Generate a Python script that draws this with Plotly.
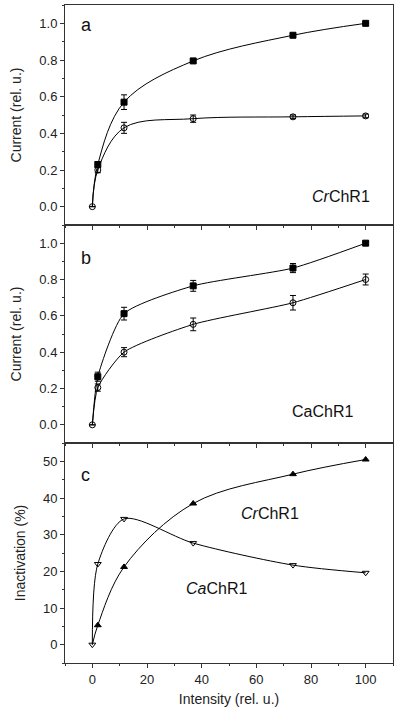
import plotly.graph_objects as go
from plotly.subplots import make_subplots

# Intensity values (rel. u.)
intensity = [0, 2.0, 11.6, 36.9, 73.4, 100]

# Panel a: CrChR1 currents
a_peak = [0, 0.23, 0.57, 0.795, 0.935, 1.0]
a_peak_err = [0, 0.015, 0.04, 0.01, 0.01, 0.0]
a_stat = [0, 0.20, 0.43, 0.48, 0.49, 0.495]
a_stat_err = [0, 0.015, 0.03, 0.02, 0.01, 0.01]

# Panel b: CaChR1 currents
b_peak = [0, 0.265, 0.612, 0.765, 0.863, 1.0]
b_peak_err = [0, 0.025, 0.035, 0.03, 0.025, 0.01]
b_stat = [0, 0.205, 0.40, 0.553, 0.672, 0.80]
b_stat_err = [0, 0.02, 0.025, 0.035, 0.04, 0.03]

# Panel c: inactivation (%)
c_cr = [0, 5.3, 21.2, 38.5, 46.5, 50.5]
c_ca = [0, 22.0, 34.3, 27.7, 21.7, 19.6]

fig = make_subplots(rows=3, cols=1, shared_xaxes=True, vertical_spacing=0)


def add_series(row, y, err, symbol, skip0=True, smoothing=1.0):
    fig.add_trace(go.Scatter(x=intensity, y=y, mode="lines",
                             line=dict(color="black", width=1, shape="spline",
                                       smoothing=smoothing),
                             hoverinfo="skip", showlegend=False), row=row, col=1)
    start = 1 if skip0 else 0
    kw = {}
    if err is not None:
        kw["error_y"] = dict(type="data", array=err[start:], color="black",
                             thickness=1, width=3)
    fig.add_trace(go.Scatter(x=intensity[start:], y=y[start:], mode="markers",
                             marker=dict(symbol=symbol, size=6, color="black",
                                         line=dict(color="black", width=1)),
                             showlegend=False, **kw), row=row, col=1)


add_series(1, a_peak, a_peak_err, "square", skip0=True)
add_series(1, a_stat, a_stat_err, "circle-open", skip0=False)
add_series(2, b_peak, b_peak_err, "square", skip0=True, smoothing=0.6)
add_series(2, b_stat, b_stat_err, "circle-open", skip0=False, smoothing=0.6)
add_series(3, c_cr, None, "triangle-up", skip0=True)
add_series(3, c_ca, None, "triangle-down-open", skip0=False, smoothing=0.8)

FONT = "Liberation Sans, Arial, sans-serif"
axis_common = dict(showline=True, linecolor="#333", linewidth=1, mirror=True,
                   ticks="outside", ticklen=4, tickcolor="#333", tickwidth=1,
                   showgrid=False, zeroline=False,
                   tickfont=dict(size=13, color="#222", family=FONT))

for r in (1, 2, 3):
    fig.update_xaxes(range=[-10, 110], tick0=0, dtick=20,
                     minor=dict(ticks="outside", ticklen=2, dtick=10, tick0=0,
                                tickcolor="#333", showgrid=False),
                     showticklabels=(r == 3), row=r, col=1, **axis_common)

for r in (1, 2):
    fig.update_yaxes(range=[-0.1, 1.1], tick0=0, dtick=0.2, tickformat=".1f",
                     minor=dict(ticks="outside", ticklen=2, dtick=0.1, tick0=0,
                                tickcolor="#333", showgrid=False),
                     title=dict(text="Current (rel. u.)", standoff=14,
                                font=dict(size=14, color="#222", family=FONT)),
                     row=r, col=1, **axis_common)
fig.update_yaxes(range=[-5, 55], tick0=0, dtick=10,
                 minor=dict(ticks="outside", ticklen=2, dtick=5, tick0=0,
                            tickcolor="#333", showgrid=False),
                 title=dict(text="Inactivation (%)", standoff=14,
                            font=dict(size=14, color="#222", family=FONT)),
                 row=3, col=1, **axis_common)
fig.update_xaxes(title=dict(text="Intensity (rel. u.)", standoff=8,
                            font=dict(size=14, color="#222", family=FONT)),
                 row=3, col=1)

H = 711
top, bot = 5, 48
ph = H - top - bot
yb = (663 - 443) / ph
ya = (663 - 225) / ph
fig.update_layout(yaxis=dict(domain=[ya, 1]), yaxis2=dict(domain=[yb, ya]),
                  yaxis3=dict(domain=[0, yb]))

ann = [
    (1, -2.0, 0.99, "a", 18),
    (1, 90.9, 0.053, "<i>Cr</i>ChR1", 16),
    (2, -2.4, 0.918, "b", 18),
    (2, 84.1, 0.074, "CaChR1", 16),
    (3, -2.4, 46.2, "c", 18),
    (3, 64.9, 35.9, "<i>Cr</i>ChR1", 16),
    (3, 45.6, 15.35, "<i>Ca</i>ChR1", 16),
]
for r, x, y, t, s in ann:
    fig.add_annotation(x=x, y=y, text=t, showarrow=False,
                       font=dict(size=s, color="#111", family=FONT),
                       xref="x" if r == 1 else f"x{r}",
                       yref="y" if r == 1 else f"y{r}")

fig.update_layout(width=400, height=711, plot_bgcolor="white",
                  paper_bgcolor="white",
                  margin=dict(l=65, r=7, t=top, b=bot, autoexpand=False),
                  font=dict(family=FONT, color="#222"))

fig.write_html("out.html", config={"displayModeBar": False},
               post_script="document.body.style.margin='0';"
                           "document.body.style.overflow='hidden';")
